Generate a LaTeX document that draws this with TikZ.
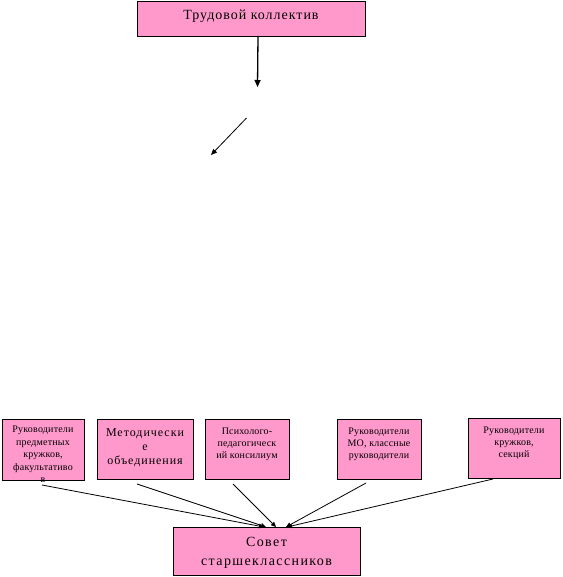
\documentclass[tikz,border=0pt]{standalone}
\usepackage{fontspec}
\setmainfont{Liberation Serif}
\newfontfamily\ftopfam[LetterSpace=7]{Liberation Serif}
\newfontfamily\fmidfam[LetterSpace=8]{Liberation Serif}
\newfontfamily\fsmallfam[LetterSpace=2]{Liberation Serif}
\newfontfamily\fsovfam[LetterSpace=10]{Liberation Serif}
\newcommand\ftop{\ftopfam\fontsize{14}{18}\selectfont}
\newcommand\fsov{\fsovfam\fontsize{14}{18.5}\selectfont}
\newcommand\fmid{\fmidfam\fontsize{12}{14}\selectfont}
\newcommand\fsmall{\fsmallfam\fontsize{10}{12.4}\selectfont}
\newcommand\fsmallb{\fsmallfam\fontsize{10}{12}\selectfont}
\newcommand\boxtxt[4]{\parbox[c][#2][t]{#1}{\centering\vspace*{#3}#4\par}}
\usetikzlibrary{arrows.meta}
\definecolor{boxpink}{HTML}{FF99CC}
\tikzset{
  pbox/.style={draw=black, fill=boxpink, line width=0.8pt, inner sep=0pt, outer sep=0pt, rectangle},
  toparrow/.style={line width=1.3pt, -{Triangle[length=7pt,width=6pt]}},
  thinarrow/.style={line width=0.8pt, -{Triangle[length=6pt,width=5pt]}},
  botarrow/.style={line width=0.8pt, -{Triangle[length=5pt,width=4.5pt]}}
}
\begin{document}
\begin{tikzpicture}[x=1pt,y=-1pt]
\useasboundingbox (0,0) rectangle (562,577);
\node[pbox] (tk) at (251,18.5) {\boxtxt{228pt}{35pt}{9.2pt}{\ftop Трудовой коллектив}};
\node[pbox] (b1) at (43,449.5) {\boxtxt{82pt}{61pt}{7.4pt}{\fsmall Руководители\\предметных\\кружков,\\факультативо\\в}};
\node[pbox] (b2) at (145,449) {\boxtxt{96pt}{60pt}{10pt}{\fmid Методически\\е\\объединения}};
\node[pbox] (b3) at (247,449) {\boxtxt{84pt}{60pt}{9.4pt}{\fsmallb Психолого-\\педагогическ\\ий консилиум}};
\node[pbox] (b4) at (379,449) {\boxtxt{84pt}{60pt}{9.4pt}{\fsmallb Руководители\\МО, классные\\руководители}};
\node[pbox] (b5) at (514,448) {\boxtxt{92pt}{60pt}{9.4pt}{\fsmallb Руководители\\кружков,\\секций}};
\node[pbox] (sov) at (266.5,551) {\boxtxt{187pt}{48pt}{10.4pt}{\fsov Совет\\старшеклассников}};
\coordinate (a1) at (257.5,87);
\coordinate (a2) at (246.5,118);
\coordinate (a3) at (211,155);
\draw[toparrow] ([xshift=7pt]tk.south) -- (a1);
\draw[thinarrow] (a2) -- (a3);
\draw[botarrow] ([xshift=-1pt,yshift=-5pt]b1.south) -- ([xshift=-2.5pt]sov.north);
\draw[botarrow] ([xshift=-8pt,yshift=-5pt]b2.south) -- ([xshift=-0.5pt]sov.north);
\draw[botarrow] ([xshift=-14pt,yshift=-5pt]b3.south) -- ([xshift=9.5pt]sov.north);
\draw[botarrow] ([xshift=-13pt,yshift=-4pt]b4.south) -- ([xshift=19.5pt]sov.north);
\draw[botarrow] ([xshift=-21pt,yshift=-1pt]b5.south) -- ([xshift=20.5pt]sov.north);
\end{tikzpicture}
\end{document}
